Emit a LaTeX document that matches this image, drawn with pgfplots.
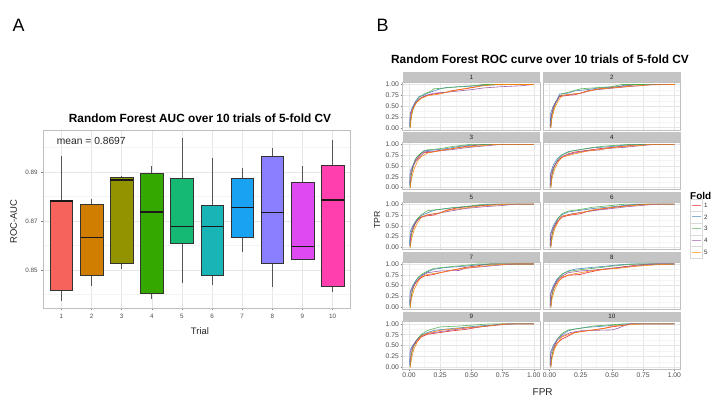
\documentclass[border=0pt]{standalone}
\usepackage{pgfplots}
\pgfplotsset{compat=1.18}
\usepackage{fontspec}
\setmainfont{Liberation Sans}
\newcommand\fs[1]{\fontsize{#1}{#1}\selectfont}
\definecolor{b1}{HTML}{F6635D}
\definecolor{b2}{HTML}{D07E00}
\definecolor{b3}{HTML}{939300}
\definecolor{b4}{HTML}{35A800}
\definecolor{b5}{HTML}{16B974}
\definecolor{b6}{HTML}{19B4B6}
\definecolor{b7}{HTML}{1AA2F2}
\definecolor{b8}{HTML}{8A80FF}
\definecolor{b9}{HTML}{DE4AF0}
\definecolor{b10}{HTML}{FF3FAE}
\definecolor{f1}{HTML}{E41A1C}
\definecolor{f2}{HTML}{377EB8}
\definecolor{f3}{HTML}{4DAF4A}
\definecolor{f4}{HTML}{984EA3}
\definecolor{f5}{HTML}{FF7F00}
\definecolor{gridmaj}{HTML}{E6E6E6}
\definecolor{gridmin}{HTML}{F4F4F4}
\definecolor{panelborder}{HTML}{BFBFBF}
\definecolor{tickgray}{HTML}{4D4D4D}
\definecolor{tickmark}{HTML}{808080}
\definecolor{stripfill}{HTML}{C4C4C4}
\definecolor{boxline}{HTML}{333333}
\definecolor{whisk}{HTML}{555555}
\pgfplotsset{
  common/.style={
    scale only axis, anchor=south west,
    /pgf/number format/assume math mode=true,
    grid=both,
    major grid style={gridmaj, line width=0.5bp},
    minor grid style={gridmin, line width=0.35bp},
    axis line style={panelborder, line width=0.6bp},
    tick style={tickmark, line width=0.45bp},
    tick align=outside, tick pos=left,
    major tick length=2.2bp, minor tick length=0pt,
  },
  facet/.style={
    common, width=137.3bp, height=47.6bp,
    xmin=-0.05, xmax=1.05, ymin=-0.05, ymax=1.05,
    xtick={0,0.25,0.5,0.75,1}, ytick={0,0.25,0.5,0.75,1},
    minor xtick={0.125,0.375,0.625,0.875},
    minor ytick={0.125,0.375,0.625,0.875},
    tick label style={font=\fs{6.8}, text=tickgray},
    xticklabel style={inner sep=1.5bp},
    yticklabel style={inner sep=1.5bp},
  },
  lc/.style={yticklabels={0.00,0.25,0.50,0.75,1.00}},
  rc/.style={yticklabels={}, every major y tick/.append style={draw=none}},
  br/.style={xticklabels={0.00,0.25,0.50,0.75,1.00}},
  nb/.style={xticklabels={}, every major x tick/.append style={draw=none}},
  roc/.style={line width=0.6bp, opacity=0.9},
  bx/.style={draw=boxline, line width=0.5bp},
  wh/.style={draw=whisk, line width=0.6bp},
  md/.style={draw=black!90, line width=1.4bp},
}
\begin{document}
\begin{tikzpicture}
\fill[white] (0bp,0bp) rectangle (720bp,405bp);
\path[use as bounding box] (0bp,0bp) rectangle (720bp,405bp);

% ---------------- Panel A ----------------
\begin{axis}[common,
  at={(43.3bp,96.7bp)}, width=307.4bp, height=177.6bp,
  xmin=0.4, xmax=10.6, ymin=0.83437, ymax=0.90686,
  xtick={1,2,3,4,5,6,7,8,9,10},
  xticklabels={1,2,3,4,5,6,7,8,9,10},
  ytick={0.85,0.87,0.89}, yticklabels={0.85,0.87,0.89},
  minor ytick={0.84,0.86,0.88,0.90},
  minor xtick={},
  tick label style={font=\fs{6.3}, text=tickgray},
]
% trial 1
\addplot[wh] coordinates {(1,0.8782) (1,0.8964)};
\addplot[wh] coordinates {(1,0.8419) (1,0.8375)};
\addplot[bx, fill=b1] coordinates {(0.625,0.8419) (1.375,0.8419) (1.375,0.8782) (0.625,0.8782)} -- cycle;
\addplot[md] coordinates {(0.625,0.8782) (1.375,0.8782)};
% trial 2
\addplot[wh] coordinates {(2,0.8767) (2,0.8790)};
\addplot[wh] coordinates {(2,0.8478) (2,0.8434)};
\addplot[bx, fill=b2] coordinates {(1.625,0.8478) (2.375,0.8478) (2.375,0.8767) (1.625,0.8767)} -- cycle;
\addplot[md] coordinates {(1.625,0.8633) (2.375,0.8633)};
% trial 3
\addplot[wh] coordinates {(3,0.8879) (3,0.8882)};
\addplot[wh] coordinates {(3,0.8529) (3,0.8505)};
\addplot[bx, fill=b3] coordinates {(2.625,0.8529) (3.375,0.8529) (3.375,0.8879) (2.625,0.8879)} -- cycle;
\addplot[md] coordinates {(2.625,0.8867) (3.375,0.8867)};
% trial 4
\addplot[wh] coordinates {(4,0.8896) (4,0.8923)};
\addplot[wh] coordinates {(4,0.8407) (4,0.8382)};
\addplot[bx, fill=b4] coordinates {(3.625,0.8407) (4.375,0.8407) (4.375,0.8896) (3.625,0.8896)} -- cycle;
\addplot[md] coordinates {(3.625,0.8736) (4.375,0.8736)};
% trial 5
\addplot[wh] coordinates {(5,0.8874) (5,0.9040)};
\addplot[wh] coordinates {(5,0.8608) (5,0.8447)};
\addplot[bx, fill=b5] coordinates {(4.625,0.8608) (5.375,0.8608) (5.375,0.8874) (4.625,0.8874)} -- cycle;
\addplot[md] coordinates {(4.625,0.8678) (5.375,0.8678)};
% trial 6
\addplot[wh] coordinates {(6,0.8763) (6,0.8959)};
\addplot[wh] coordinates {(6,0.8478) (6,0.8440)};
\addplot[bx, fill=b6] coordinates {(5.625,0.8478) (6.375,0.8478) (6.375,0.8763) (5.625,0.8763)} -- cycle;
\addplot[md] coordinates {(5.625,0.8678) (6.375,0.8678)};
% trial 7
\addplot[wh] coordinates {(7,0.8875) (7,0.8915)};
\addplot[wh] coordinates {(7,0.8634) (7,0.8575)};
\addplot[bx, fill=b7] coordinates {(6.625,0.8634) (7.375,0.8634) (7.375,0.8875) (6.625,0.8875)} -- cycle;
\addplot[md] coordinates {(6.625,0.8755) (7.375,0.8755)};
% trial 8
\addplot[wh] coordinates {(8,0.8966) (8,0.8996)};
\addplot[wh] coordinates {(8,0.8529) (8,0.8430)};
\addplot[bx, fill=b8] coordinates {(7.625,0.8529) (8.375,0.8529) (8.375,0.8966) (7.625,0.8966)} -- cycle;
\addplot[md] coordinates {(7.625,0.8734) (8.375,0.8734)};
% trial 9
\addplot[wh] coordinates {(9,0.8860) (9,0.8923)};
\addplot[wh] coordinates {(9,0.8544) (9,0.8540)};
\addplot[bx, fill=b9] coordinates {(8.625,0.8544) (9.375,0.8544) (9.375,0.8860) (8.625,0.8860)} -- cycle;
\addplot[md] coordinates {(8.625,0.8597) (9.375,0.8597)};
% trial 10
\addplot[wh] coordinates {(10,0.8929) (10,0.9029)};
\addplot[wh] coordinates {(10,0.8434) (10,0.8410)};
\addplot[bx, fill=b10] coordinates {(9.625,0.8434) (10.375,0.8434) (10.375,0.8929) (9.625,0.8929)} -- cycle;
\addplot[md] coordinates {(9.625,0.8786) (10.375,0.8786)};
\end{axis}

\node[anchor=base west, font=\fs{10.3}, text=black!85, inner sep=0] at (56.7bp,260bp) {mean = 0.8697};
\node[anchor=base, font=\bfseries\fs{11.9}, inner sep=0] at (200bp,282.3bp) {Random Forest AUC over 10 trials of 5-fold CV};
\node[font=\fs{9.5}, text=black!85, rotate=90] at (13.7bp,183.5bp) {ROC-AUC};
\node[font=\fs{9.5}, text=black!85] at (200bp,74.3bp) {Trial};
\node[anchor=base west, font=\fs{18}, inner sep=0] at (12.5bp,373bp) {A};
\node[anchor=base west, font=\fs{18}, inner sep=0] at (376.5bp,373bp) {B};

% ---------------- Panel B ----------------
% facet 1
\begin{axis}[facet, lc, nb, at={(402.7bp,275.1bp)}]
\addplot[roc,f1] coordinates {(0.01,0) (0.01,0.15) (0.02,0.35) (0.04,0.5) (0.07,0.62) (0.1,0.7) (0.15,0.75) (0.2,0.78) (0.3,0.82) (0.35,0.86) (0.45,0.9) (0.55,0.95) (0.6,1) (1,1)};
\addplot[roc,f2] coordinates {(0.005,0.02) (0.01,0.3) (0.02,0.42) (0.05,0.6) (0.08,0.72) (0.12,0.75) (0.15,0.8) (0.2,0.85) (0.25,0.9) (0.3,0.93) (0.5,0.96) (0.6,0.98) (0.8,1) (1,1)};
\addplot[roc,f3] coordinates {(0.01,0) (0.015,0.2) (0.03,0.4) (0.05,0.55) (0.08,0.7) (0.12,0.78) (0.18,0.85) (0.2,0.9) (0.3,0.92) (0.4,0.95) (0.55,0.98) (0.6,1) (1,1)};
\addplot[roc,f4] coordinates {(0.01,0.05) (0.01,0.32) (0.03,0.45) (0.05,0.58) (0.1,0.7) (0.15,0.76) (0.2,0.8) (0.3,0.82) (0.4,0.85) (0.5,0.88) (0.6,0.92) (0.75,0.95) (0.9,0.97) (1,1)};
\addplot[roc,f5] coordinates {(0.01,0) (0.02,0.25) (0.03,0.42) (0.06,0.58) (0.1,0.68) (0.15,0.74) (0.25,0.78) (0.3,0.82) (0.4,0.88) (0.5,0.93) (0.6,0.97) (0.7,1) (1,1)};
\end{axis}
% facet 2
\begin{axis}[facet, rc, nb, at={(543.3bp,275.1bp)}]
\addplot[roc,f1] coordinates {(0.01,0) (0.01,0.2) (0.03,0.45) (0.05,0.6) (0.08,0.72) (0.15,0.75) (0.2,0.76) (0.25,0.8) (0.3,0.85) (0.4,0.9) (0.5,0.93) (0.62,0.97) (0.7,1) (1,1)};
\addplot[roc,f2] coordinates {(0.005,0.03) (0.01,0.35) (0.03,0.5) (0.06,0.65) (0.08,0.78) (0.15,0.8) (0.2,0.85) (0.3,0.88) (0.4,0.92) (0.55,0.95) (0.6,0.98) (0.75,1) (1,1)};
\addplot[roc,f3] coordinates {(0.01,0) (0.02,0.3) (0.04,0.5) (0.07,0.7) (0.1,0.78) (0.15,0.82) (0.2,0.86) (0.25,0.9) (0.4,0.93) (0.5,0.95) (0.58,1) (1,1)};
\addplot[roc,f4] coordinates {(0.01,0.05) (0.015,0.3) (0.03,0.48) (0.06,0.62) (0.08,0.74) (0.15,0.76) (0.25,0.8) (0.35,0.87) (0.45,0.9) (0.6,0.94) (0.72,0.97) (0.85,1) (1,1)};
\addplot[roc,f5] coordinates {(0.01,0) (0.02,0.22) (0.04,0.45) (0.07,0.62) (0.1,0.75) (0.18,0.78) (0.25,0.8) (0.3,0.84) (0.4,0.9) (0.5,0.92) (0.65,0.96) (0.8,0.99) (1,1)};
\end{axis}
% facet 3
\begin{axis}[facet, lc, nb, at={(402.7bp,215.25bp)}]
\addplot[roc,f1] coordinates {(0.01,0) (0.015,0.25) (0.03,0.45) (0.05,0.62) (0.08,0.72) (0.1,0.8) (0.18,0.82) (0.25,0.86) (0.35,0.9) (0.45,0.95) (0.55,0.98) (0.6,1) (1,1)};
\addplot[roc,f2] coordinates {(0.005,0.05) (0.01,0.38) (0.03,0.5) (0.05,0.65) (0.08,0.75) (0.12,0.85) (0.2,0.87) (0.3,0.9) (0.4,0.95) (0.5,0.98) (0.65,1) (1,1)};
\addplot[roc,f3] coordinates {(0.01,0) (0.02,0.3) (0.04,0.55) (0.06,0.7) (0.1,0.8) (0.14,0.87) (0.25,0.9) (0.35,0.95) (0.5,1) (1,1)};
\addplot[roc,f4] coordinates {(0.01,0.05) (0.01,0.3) (0.03,0.48) (0.06,0.63) (0.1,0.75) (0.13,0.83) (0.25,0.85) (0.35,0.88) (0.45,0.92) (0.6,0.96) (0.75,1) (1,1)};
\addplot[roc,f5] coordinates {(0.01,0) (0.02,0.2) (0.04,0.42) (0.07,0.62) (0.1,0.72) (0.15,0.8) (0.25,0.85) (0.3,0.88) (0.42,0.93) (0.55,0.96) (0.7,1) (1,1)};
\end{axis}
% facet 4
\begin{axis}[facet, rc, nb, at={(543.3bp,215.25bp)}]
\addplot[roc,f1] coordinates {(0.01,0) (0.015,0.25) (0.03,0.45) (0.06,0.6) (0.1,0.7) (0.15,0.78) (0.2,0.82) (0.3,0.86) (0.4,0.9) (0.5,0.93) (0.6,0.96) (0.75,1) (1,1)};
\addplot[roc,f2] coordinates {(0.005,0.04) (0.01,0.35) (0.03,0.52) (0.06,0.66) (0.1,0.76) (0.15,0.83) (0.25,0.88) (0.35,0.92) (0.5,0.95) (0.6,0.98) (0.7,1) (1,1)};
\addplot[roc,f3] coordinates {(0.01,0) (0.02,0.28) (0.04,0.5) (0.07,0.66) (0.1,0.75) (0.17,0.84) (0.25,0.88) (0.35,0.93) (0.45,0.96) (0.55,0.98) (0.65,1) (1,1)};
\addplot[roc,f4] coordinates {(0.01,0.05) (0.01,0.3) (0.03,0.45) (0.06,0.6) (0.1,0.72) (0.2,0.8) (0.3,0.85) (0.4,0.87) (0.45,0.9) (0.6,0.93) (0.7,0.96) (0.85,1) (1,1)};
\addplot[roc,f5] coordinates {(0.01,0) (0.02,0.22) (0.04,0.42) (0.07,0.6) (0.1,0.7) (0.2,0.78) (0.3,0.84) (0.4,0.88) (0.5,0.92) (0.6,0.95) (0.75,0.98) (0.8,1) (1,1)};
\end{axis}
% facet 5
\begin{axis}[facet, lc, nb, at={(402.7bp,155.4bp)}]
\addplot[roc,f1] coordinates {(0.01,0) (0.01,0.2) (0.03,0.4) (0.05,0.55) (0.08,0.68) (0.12,0.72) (0.2,0.75) (0.25,0.8) (0.3,0.86) (0.4,0.92) (0.5,0.95) (0.65,0.98) (0.7,1) (1,1)};
\addplot[roc,f2] coordinates {(0.005,0.05) (0.01,0.36) (0.03,0.5) (0.06,0.64) (0.1,0.74) (0.15,0.8) (0.2,0.86) (0.3,0.9) (0.45,0.94) (0.55,0.97) (0.65,1) (1,1)};
\addplot[roc,f3] coordinates {(0.01,0) (0.02,0.3) (0.04,0.52) (0.07,0.67) (0.1,0.76) (0.15,0.85) (0.25,0.88) (0.35,0.92) (0.5,0.96) (0.6,1) (1,1)};
\addplot[roc,f4] coordinates {(0.01,0.05) (0.015,0.32) (0.03,0.46) (0.06,0.6) (0.1,0.7) (0.15,0.75) (0.25,0.8) (0.35,0.85) (0.45,0.9) (0.6,0.94) (0.75,0.97) (0.85,1) (1,1)};
\addplot[roc,f5] coordinates {(0.01,0) (0.02,0.18) (0.04,0.4) (0.07,0.58) (0.1,0.7) (0.15,0.76) (0.25,0.8) (0.32,0.86) (0.42,0.9) (0.55,0.95) (0.7,0.98) (0.78,1) (1,1)};
\end{axis}
% facet 6
\begin{axis}[facet, rc, nb, at={(543.3bp,155.4bp)}]
\addplot[roc,f1] coordinates {(0.01,0) (0.015,0.22) (0.03,0.42) (0.06,0.58) (0.1,0.7) (0.15,0.74) (0.25,0.78) (0.3,0.83) (0.4,0.88) (0.5,0.92) (0.6,0.96) (0.7,0.99) (0.8,1) (1,1)};
\addplot[roc,f2] coordinates {(0.005,0.04) (0.01,0.34) (0.03,0.5) (0.06,0.65) (0.1,0.76) (0.15,0.82) (0.25,0.86) (0.35,0.9) (0.5,0.94) (0.6,0.97) (0.7,1) (1,1)};
\addplot[roc,f3] coordinates {(0.01,0) (0.02,0.28) (0.04,0.5) (0.07,0.68) (0.1,0.78) (0.15,0.84) (0.25,0.88) (0.35,0.93) (0.5,0.97) (0.6,1) (1,1)};
\addplot[roc,f4] coordinates {(0.01,0.04) (0.01,0.3) (0.03,0.45) (0.06,0.6) (0.1,0.72) (0.18,0.78) (0.28,0.82) (0.38,0.86) (0.5,0.9) (0.62,0.94) (0.78,0.98) (0.88,1) (1,1)};
\addplot[roc,f5] coordinates {(0.01,0) (0.02,0.2) (0.04,0.42) (0.07,0.6) (0.1,0.72) (0.18,0.77) (0.28,0.82) (0.35,0.87) (0.45,0.91) (0.6,0.95) (0.72,0.98) (0.8,1) (1,1)};
\end{axis}
% facet 7
\begin{axis}[facet, lc, nb, at={(402.7bp,95.55bp)}]
\addplot[roc,f1] coordinates {(0.01,0) (0.015,0.2) (0.03,0.42) (0.05,0.55) (0.08,0.65) (0.12,0.72) (0.2,0.76) (0.25,0.8) (0.35,0.86) (0.45,0.92) (0.55,0.96) (0.65,1) (1,1)};
\addplot[roc,f2] coordinates {(0.005,0.05) (0.01,0.36) (0.03,0.5) (0.06,0.64) (0.1,0.74) (0.15,0.82) (0.2,0.88) (0.3,0.92) (0.45,0.95) (0.55,0.98) (0.65,1) (1,1)};
\addplot[roc,f3] coordinates {(0.01,0) (0.02,0.3) (0.04,0.52) (0.07,0.68) (0.1,0.76) (0.15,0.84) (0.2,0.9) (0.3,0.93) (0.45,0.97) (0.55,1) (1,1)};
\addplot[roc,f4] coordinates {(0.01,0.05) (0.01,0.32) (0.03,0.46) (0.06,0.6) (0.1,0.72) (0.15,0.8) (0.25,0.84) (0.4,0.85) (0.45,0.9) (0.6,0.94) (0.75,0.98) (0.85,1) (1,1)};
\addplot[roc,f5] coordinates {(0.01,0) (0.02,0.2) (0.04,0.4) (0.07,0.58) (0.1,0.7) (0.15,0.76) (0.25,0.8) (0.35,0.86) (0.45,0.9) (0.55,0.94) (0.7,0.98) (0.8,1) (1,1)};
\end{axis}
% facet 8
\begin{axis}[facet, rc, nb, at={(543.3bp,95.55bp)}]
\addplot[roc,f1] coordinates {(0.01,0) (0.015,0.22) (0.03,0.42) (0.06,0.58) (0.1,0.68) (0.15,0.74) (0.25,0.76) (0.3,0.8) (0.4,0.86) (0.5,0.9) (0.6,0.94) (0.72,0.98) (0.8,1) (1,1)};
\addplot[roc,f2] coordinates {(0.005,0.04) (0.01,0.34) (0.03,0.5) (0.06,0.65) (0.1,0.76) (0.15,0.84) (0.2,0.88) (0.3,0.91) (0.45,0.95) (0.55,0.98) (0.65,1) (1,1)};
\addplot[roc,f3] coordinates {(0.01,0) (0.02,0.28) (0.04,0.5) (0.07,0.67) (0.1,0.77) (0.15,0.83) (0.25,0.87) (0.35,0.9) (0.5,0.95) (0.6,0.98) (0.7,1) (1,1)};
\addplot[roc,f4] coordinates {(0.01,0.04) (0.01,0.3) (0.03,0.46) (0.06,0.62) (0.1,0.72) (0.15,0.8) (0.25,0.84) (0.35,0.86) (0.45,0.89) (0.6,0.93) (0.75,0.97) (0.85,1) (1,1)};
\addplot[roc,f5] coordinates {(0.01,0) (0.02,0.2) (0.04,0.4) (0.07,0.58) (0.1,0.7) (0.17,0.76) (0.25,0.8) (0.35,0.85) (0.45,0.88) (0.55,0.9) (0.7,0.95) (0.85,0.98) (1,1)};
\end{axis}
% facet 9
\begin{axis}[facet, lc, br, at={(402.7bp,35.7bp)}]
\addplot[roc,f1] coordinates {(0.01,0) (0.015,0.25) (0.03,0.45) (0.06,0.58) (0.1,0.7) (0.15,0.76) (0.25,0.8) (0.35,0.84) (0.45,0.87) (0.55,0.92) (0.65,0.96) (0.75,1) (1,1)};
\addplot[roc,f2] coordinates {(0.005,0.05) (0.01,0.4) (0.03,0.5) (0.06,0.62) (0.1,0.74) (0.15,0.8) (0.2,0.85) (0.3,0.88) (0.45,0.92) (0.55,0.95) (0.7,0.98) (0.8,1) (1,1)};
\addplot[roc,f3] coordinates {(0.01,0) (0.02,0.3) (0.04,0.5) (0.07,0.66) (0.1,0.76) (0.15,0.85) (0.25,0.93) (0.4,0.95) (0.55,0.98) (0.65,1) (1,1)};
\addplot[roc,f4] coordinates {(0.01,0.05) (0.01,0.34) (0.03,0.48) (0.06,0.62) (0.1,0.72) (0.15,0.78) (0.25,0.82) (0.35,0.86) (0.45,0.9) (0.6,0.94) (0.7,0.97) (0.85,1) (1,1)};
\addplot[roc,f5] coordinates {(0.01,0) (0.02,0.2) (0.04,0.42) (0.07,0.6) (0.1,0.72) (0.17,0.8) (0.25,0.85) (0.35,0.88) (0.45,0.91) (0.55,0.93) (0.7,0.97) (0.8,1) (1,1)};
\end{axis}
% facet 10
\begin{axis}[facet, rc, br, at={(543.3bp,35.7bp)}]
\addplot[roc,f1] coordinates {(0.01,0) (0.015,0.2) (0.03,0.4) (0.06,0.56) (0.1,0.65) (0.15,0.72) (0.2,0.8) (0.3,0.84) (0.4,0.88) (0.5,0.93) (0.6,0.97) (0.65,1) (1,1)};
\addplot[roc,f2] coordinates {(0.005,0.05) (0.01,0.36) (0.03,0.5) (0.06,0.64) (0.1,0.75) (0.15,0.84) (0.2,0.88) (0.3,0.92) (0.45,0.95) (0.55,0.98) (0.62,1) (1,1)};
\addplot[roc,f3] coordinates {(0.01,0) (0.02,0.28) (0.04,0.5) (0.07,0.68) (0.1,0.78) (0.15,0.86) (0.25,0.9) (0.35,0.95) (0.5,0.98) (0.6,1) (1,1)};
\addplot[roc,f4] coordinates {(0.01,0.04) (0.01,0.3) (0.03,0.46) (0.06,0.62) (0.1,0.72) (0.17,0.8) (0.25,0.84) (0.35,0.85) (0.5,0.86) (0.55,0.9) (0.6,0.96) (0.65,1) (1,1)};
\addplot[roc,f5] coordinates {(0.01,0) (0.02,0.2) (0.04,0.42) (0.07,0.58) (0.1,0.7) (0.18,0.78) (0.25,0.82) (0.35,0.86) (0.45,0.9) (0.5,0.95) (0.65,0.98) (0.75,1) (1,1)};
\end{axis}

% strips
\foreach \n/\x/\y in {1/402.7/322.7, 2/543.3/322.7, 3/402.7/262.85, 4/543.3/262.85, 5/402.7/203.0, 6/543.3/203.0, 7/402.7/143.15, 8/543.3/143.15, 9/402.7/83.3, 10/543.3/83.3}{
  \fill[stripfill] (\x bp,\y bp) rectangle ++(137.3bp,10bp);
  \path (\x bp,\y bp) ++(68.65bp,5bp) node[font=\fs{6.3}, text=black!90, inner sep=0] {\n};
}

\node[anchor=base, font=\bfseries\fs{11.9}, inner sep=0] at (540bp,341bp) {Random Forest ROC curve over 10 trials of 5-fold CV};
\node[font=\fs{8.8}, text=black!85, rotate=90, inner sep=0] at (377bp,185bp) {TPR};
\node[font=\fs{10}, text=black!85] at (542.7bp,13.3bp) {FPR};

% legend
\node[anchor=west, font=\bfseries\fs{10}, inner sep=0] at (690bp,209.5bp) {Fold};
\foreach \k/\yy in {1/200, 2/188.1, 3/176.2, 4/164.3, 5/152.4}{
  \draw[fill=white, draw=gray!30, line width=0.4bp] (690.3bp,\yy bp-5.95bp) rectangle (702.2bp,\yy bp+5.95bp);
  \draw[f\k, opacity=0.6, line width=0.8bp] (691.5bp,\yy bp) -- (701bp,\yy bp);
  \node[anchor=west, font=\fs{6.3}, text=black!80, inner sep=0] at (703.8bp,\yy bp) {\k};
}
\end{tikzpicture}
\end{document}
